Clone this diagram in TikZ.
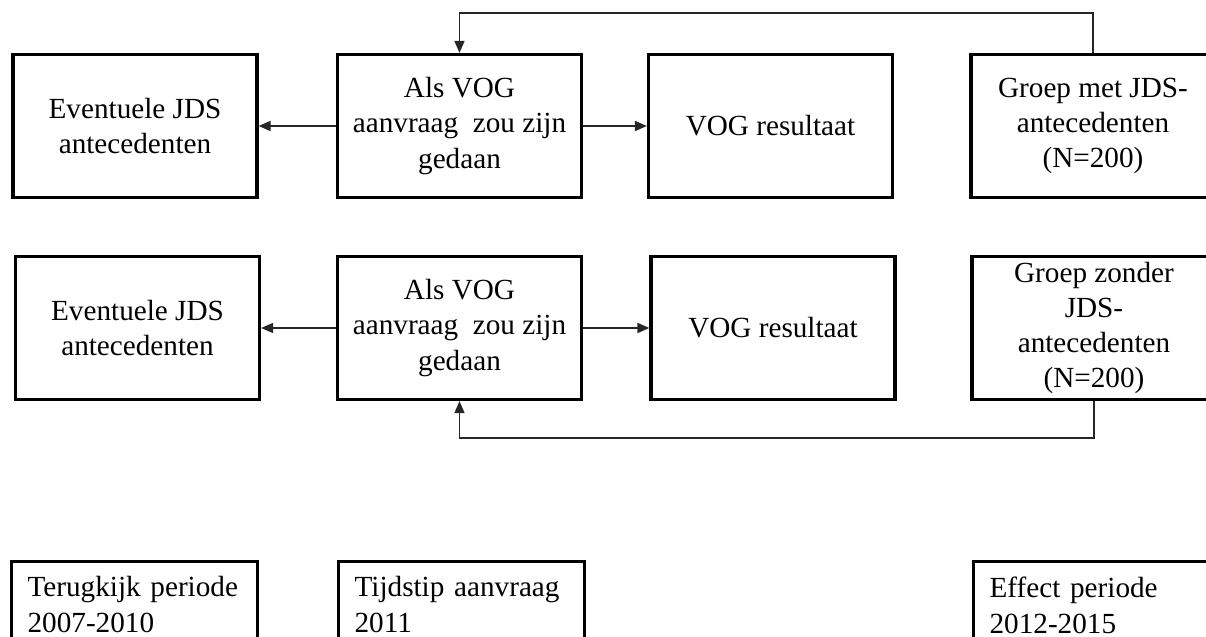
\documentclass[tikz,border=0pt]{standalone}
\usepackage{fontspec}
\setmainfont{Liberation Serif}
\usetikzlibrary{arrows.meta}
\begin{document}
\begin{tikzpicture}[x=0.5pt,y=0.5pt,
	vak/.style={draw,line width=1.6pt,minimum width=122pt,minimum height=71.5pt,align=center,inner sep=2pt,font=\fontsize{14.6}{17.6}\selectfont},
	periode/.style={draw,line width=1.6pt,anchor=north west,text width=107pt,align=left,inner xsep=8pt,inner ysep=7.5pt,font=\fontsize{14.6}{18}\selectfont},
	pijl/.style={line width=0.8pt,draw=black!85,-{Triangle[length=6pt,width=5pt]}}]%ONDERZOEKSOPZET
		\useasboundingbox (0,0) rectangle (1206,637);
		\clip (0,0) rectangle (1206,637);
		% groep met antecedenten
		\node[vak] (ev1) at (135,511) {Eventuele JDS\\antecedenten};
		\node[vak] (als1) at (459.5,511) {Als VOG\\aanvraag~ zou zijn\\gedaan};
		\node[vak] (res1) at (770.5,511) {VOG resultaat};
		\node[vak] (groep1) at (1093,511) {Groep met JDS-\\antecedenten\\(N=200)};
		\draw[pijl] (als1.west)--(ev1.east);
		\draw[pijl] (als1.east)--(res1.west);
		\draw[pijl] (groep1.north)--++(0,40)-|(als1.north);
		% groep zonder antecedenten
		\node[vak] (ev2) at (137.5,309) {Eventuele JDS\\antecedenten};
		\node[vak] (als2) at (459.5,309) {Als VOG\\aanvraag~ zou zijn\\gedaan};
		\node[vak] (res2) at (773,309) {VOG resultaat};
		\node[vak] (groep2) at (1094,309) {Groep zonder\\JDS-\\antecedenten\\(N=200)};
		\draw[pijl] (als2.west)--(ev2.east);
		\draw[pijl] (als2.east)--(res2.west);
		\draw[pijl] (groep2.south)--++(0,-37)-|(als2.south);
		% tijdlijn
		\node[periode] (terug) at (10,77) {Terugkijk periode\\2007-2010};
		\node[periode] (tijdstip) at (337,77) {Tijdstip aanvraag\\2011};
		\node[periode] (effect) at (972,77) {Effect periode\\2012-2015};
		\end{tikzpicture}
\end{document}
